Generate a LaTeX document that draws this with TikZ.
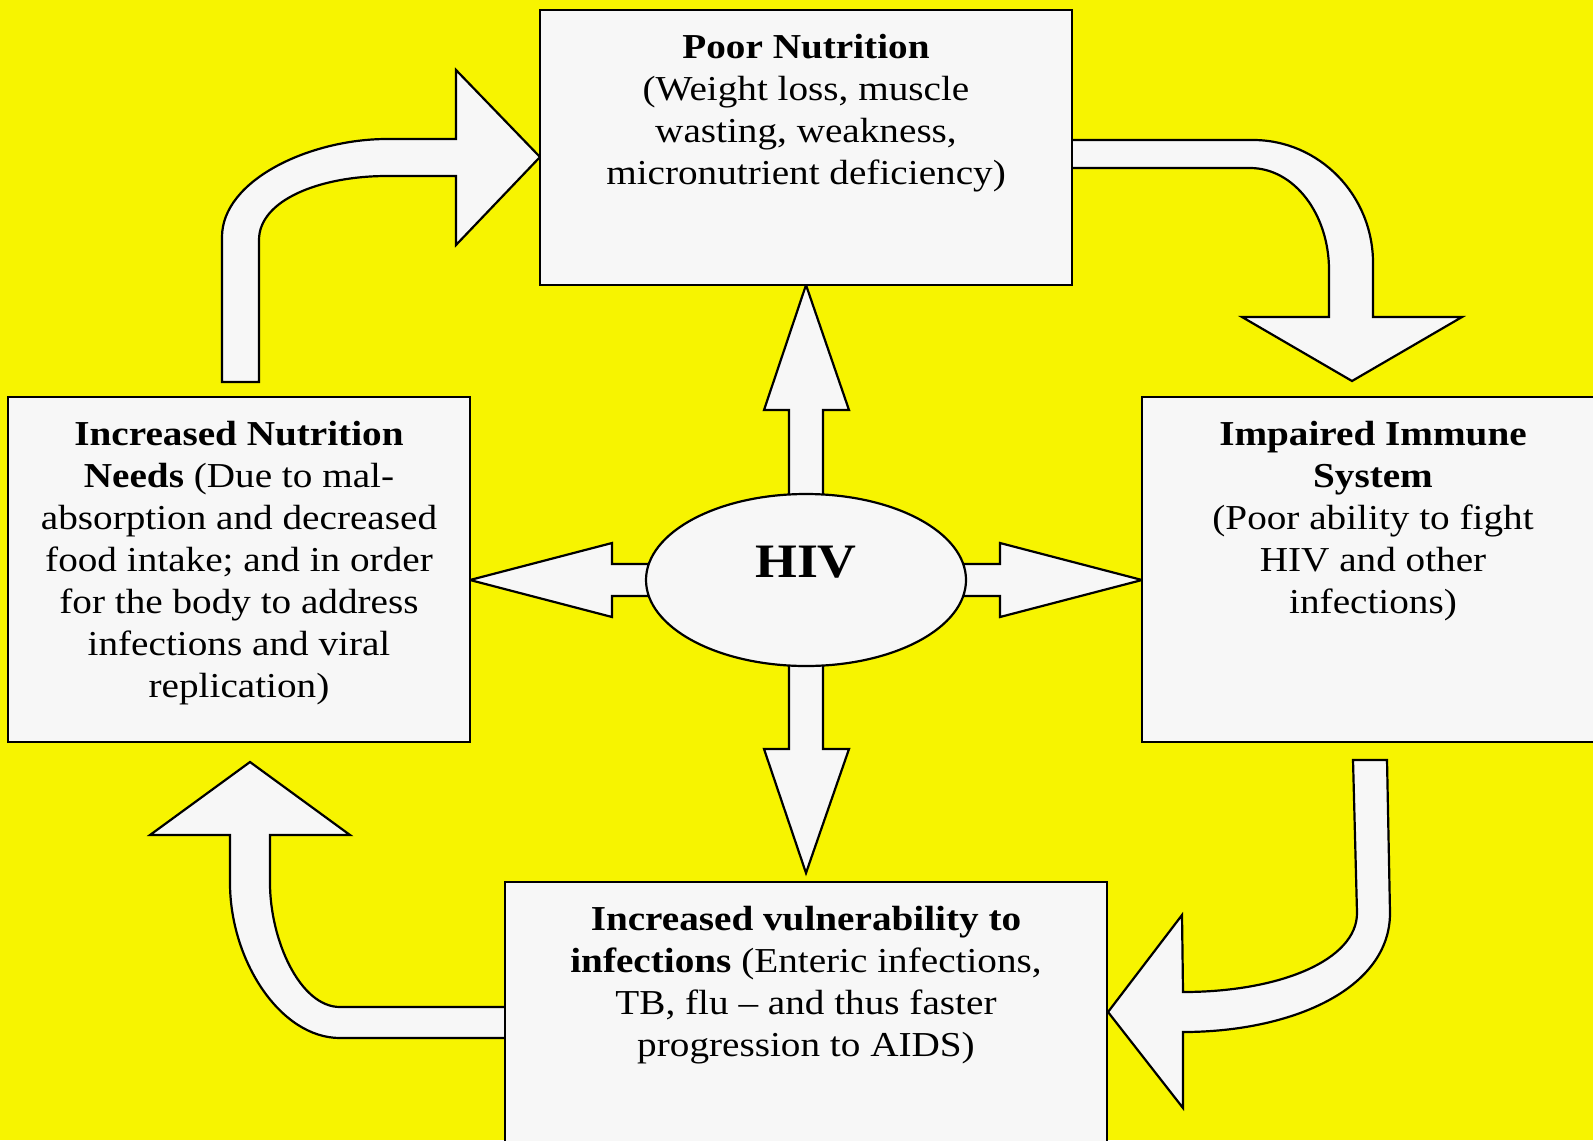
\documentclass[tikz,border=0pt]{standalone}
\usepackage{fontspec}
\setmainfont{Liberation Serif}[FakeStretch=1.12]
\usetikzlibrary{shapes.geometric}
\definecolor{bgyellow}{RGB}{247,244,0}
\definecolor{boxgray}{RGB}{247,247,247}
\begin{document}
\begin{tikzpicture}[x=0.5pt,y=-0.5pt,line join=miter,
  blk/.style={fill=boxgray,draw=black,line width=1.1pt},
  boxnode/.style={blk,rectangle,inner sep=0pt,outer sep=0pt},
  txt/.style={anchor=base,align=center,inner sep=0pt,font=\fontsize{17.5}{21}\selectfont}]
\useasboundingbox (0,0) rectangle (1593,1140);
\clip (0,0) rectangle (1593,1140);
\fill[bgyellow] (0,0) rectangle (1593,1140);

% curved block arrows
\draw[blk] (222,382) -- (222,237) .. controls (222,180) and (310,139) .. (387,139)
  -- (456,139) -- (456,70) -- (540,157) -- (456,245) -- (456,176) -- (387,176)
  .. controls (320,176) and (259,200) .. (259,240) -- (259,382) -- cycle;
\draw[blk] (1060,140) -- (1253,140) .. controls (1319,140) and (1373,195) .. (1373,263)
  -- (1373,317) -- (1462,317) -- (1352,381) -- (1242,317) -- (1329,317) -- (1329,270)
  .. controls (1329,214) and (1294,168) .. (1250,168) -- (1060,168) -- cycle;
\draw[blk] (1353,760) -- (1387,760) -- (1390,913) .. controls (1390,990) and (1290,1032) .. (1183,1032)
  -- (1183,1108) -- (1108,1012) -- (1182,915) -- (1183,992)
  .. controls (1280,992) and (1357,960) .. (1357,913) -- cycle;
\draw[blk] (515,1038) -- (340,1038) .. controls (280,1038) and (230,960) .. (230,883)
  -- (230,835) -- (150,835) -- (250,762) -- (350,835) -- (270,835) -- (270,883)
  .. controls (270,940) and (300,1007) .. (340,1007) -- (515,1007) -- cycle;

% straight block arrows from HIV
\draw[blk] (789,505) -- (789,410) -- (764,410) -- (806,285) -- (849,410) -- (823,410) -- (823,505) -- cycle;
\draw[blk] (789,655) -- (789,749) -- (764,749) -- (806,873) -- (849,749) -- (823,749) -- (823,655) -- cycle;
\draw[blk] (660,564) -- (612,564) -- (612,543) -- (470,580) -- (612,617) -- (612,596) -- (660,596) -- cycle;
\draw[blk] (952,564) -- (1000,564) -- (1000,543) -- (1142,580) -- (1000,617) -- (1000,596) -- (952,596) -- cycle;

% boxes
\node[boxnode,minimum width=266pt,minimum height=137.5pt] (top) at (806,147.5) {};
\node[boxnode,minimum width=231pt,minimum height=172.5pt] (left) at (239,569.5) {};
\node[boxnode,minimum width=234pt,minimum height=172.5pt] (right) at (1376,569.5) {};
\node[boxnode,minimum width=301pt,minimum height=139pt] (bottom) at (806,1021) {};
\node[blk,ellipse,inner sep=0pt,minimum width=160pt,minimum height=86pt] (hiv) at (806,580) {};

% texts (anchor base = baseline of last line)
\node[txt] (toptxt) at (806,184) {\textbf{Poor Nutrition}\\(Weight loss, muscle\\wasting, weakness,\\micronutrient deficiency)};
\node[txt] (lefttxt) at (239,697) {\textbf{Increased Nutrition}\\\textbf{Needs} (Due to mal-\\absorption and decreased\\food intake; and in order\\for the body to address\\infections and viral\\replication)};
\node[txt] (righttxt) at (1373,613) {\textbf{Impaired Immune}\\\textbf{System}\\(Poor ability to fight\\HIV and other\\infections)};
\node[txt] (bottomtxt) at (806,1056) {\textbf{Increased vulnerability to}\\\textbf{infections} (Enteric infections,\\TB, flu -- and thus faster\\progression to AIDS)};
\node[anchor=base,inner sep=0pt,font=\fontsize{24}{28}\selectfont\bfseries] (hivtxt) at (806,577) {HIV};
\end{tikzpicture}
\end{document}
